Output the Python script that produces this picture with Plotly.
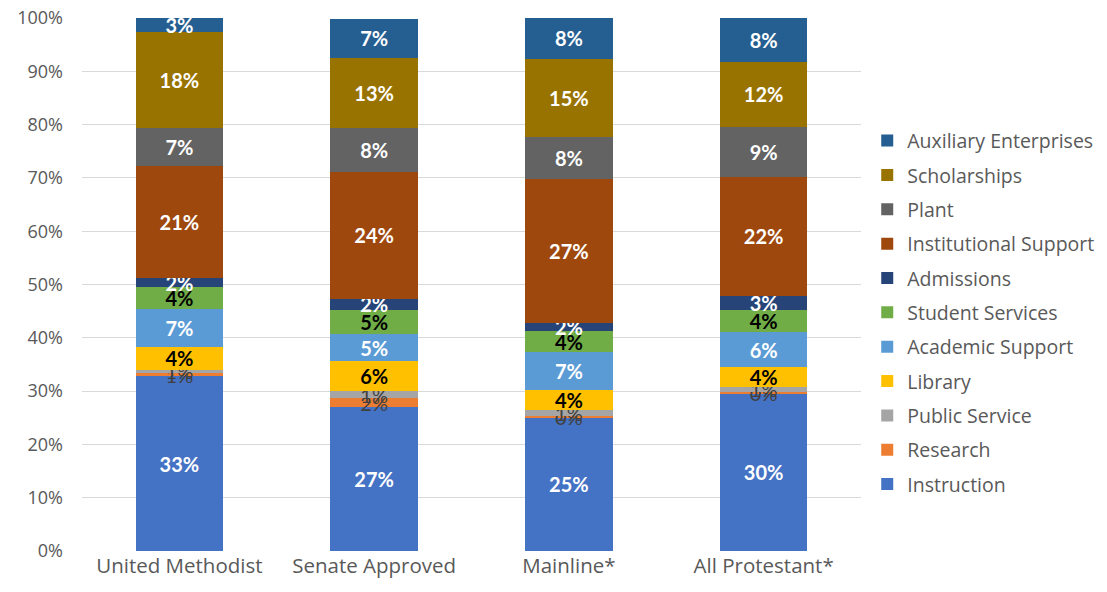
import plotly.graph_objects as go

categories = ["United Methodist", "Senate Approved", "Mainline*", "All Protestant*"]

# shares of spending, percent (bottom to top of the stack)
instruction = [32.8, 27.0, 25.0, 29.6]
research = [0.6, 1.7, 0.3, 0.3]
public_service = [0.6, 1.3, 1.2, 0.9]
library = [4.3, 5.6, 3.8, 3.8]
academic_support = [7.1, 5.1, 7.1, 6.4]
student_services = [4.1, 4.6, 3.8, 4.3]
admissions = [1.7, 2.0, 1.6, 2.6]
institutional_support = [21.0, 23.8, 27.0, 22.3]
plant = [7.1, 8.3, 7.9, 9.4]
scholarships = [18.1, 13.1, 14.7, 12.1]
auxiliary = [2.6, 7.4, 7.6, 8.3]

series = [
    ("Instruction", instruction, "#4472C4", "white"),
    ("Research", research, "#ED7D31", "#404040"),
    ("Public Service", public_service, "#A5A5A5", "#404040"),
    ("Library", library, "#FFC000", "black"),
    ("Academic Support", academic_support, "#5B9BD5", "white"),
    ("Student Services", student_services, "#70AD47", "black"),
    ("Admissions", admissions, "#264478", "white"),
    ("Institutional Support", institutional_support, "#9E480E", "white"),
    ("Plant", plant, "#636363", "white"),
    ("Scholarships", scholarships, "#997300", "white"),
    ("Auxiliary Enterprises", auxiliary, "#255E91", "white"),
]

fig = go.Figure()
for i, (name, vals, color, tcolor) in enumerate(series):
    bold = name not in ("Research", "Public Service")
    fig.add_trace(go.Bar(
        x=categories, y=vals, name=name, marker_color=color,
        marker_line_width=0, legendgroup=name, legendrank=100 - i,
        text=[f"{v:.0f}%" for v in vals],
        textposition="inside", insidetextanchor="middle",
        textangle=0, constraintext="none",
        textfont=dict(color=tcolor, size=20,
                      family="Lato", weight="bold" if bold else "normal"),
        hoverinfo="x+y+name",
    ))

fig.update_layout(
    barmode="stack",
    bargap=0.55,
    width=1107, height=592,
    margin=dict(l=74, r=254, t=10, b=49, autoexpand=False),
    plot_bgcolor="white", paper_bgcolor="white",
    font=dict(family="Open Sans", color="#595959", size=18),
    legend=dict(traceorder="grouped", tracegroupgap=6,
                x=1.008, xanchor="left", y=0.806, yanchor="top",
                font=dict(size=19.5, color="#595959"),
                itemwidth=30),
    yaxis=dict(range=[0, 100], dtick=10, ticksuffix="%",
               gridcolor="#D9D9D9", zeroline=False, showline=False,
               automargin=False, ticklabeloverflow="allow",
               ticklabelstandoff=18, tickfont=dict(size=18)),
    xaxis=dict(showline=False, automargin=False, tickfont=dict(size=20.5)),
)

fig.write_html("out.html")
